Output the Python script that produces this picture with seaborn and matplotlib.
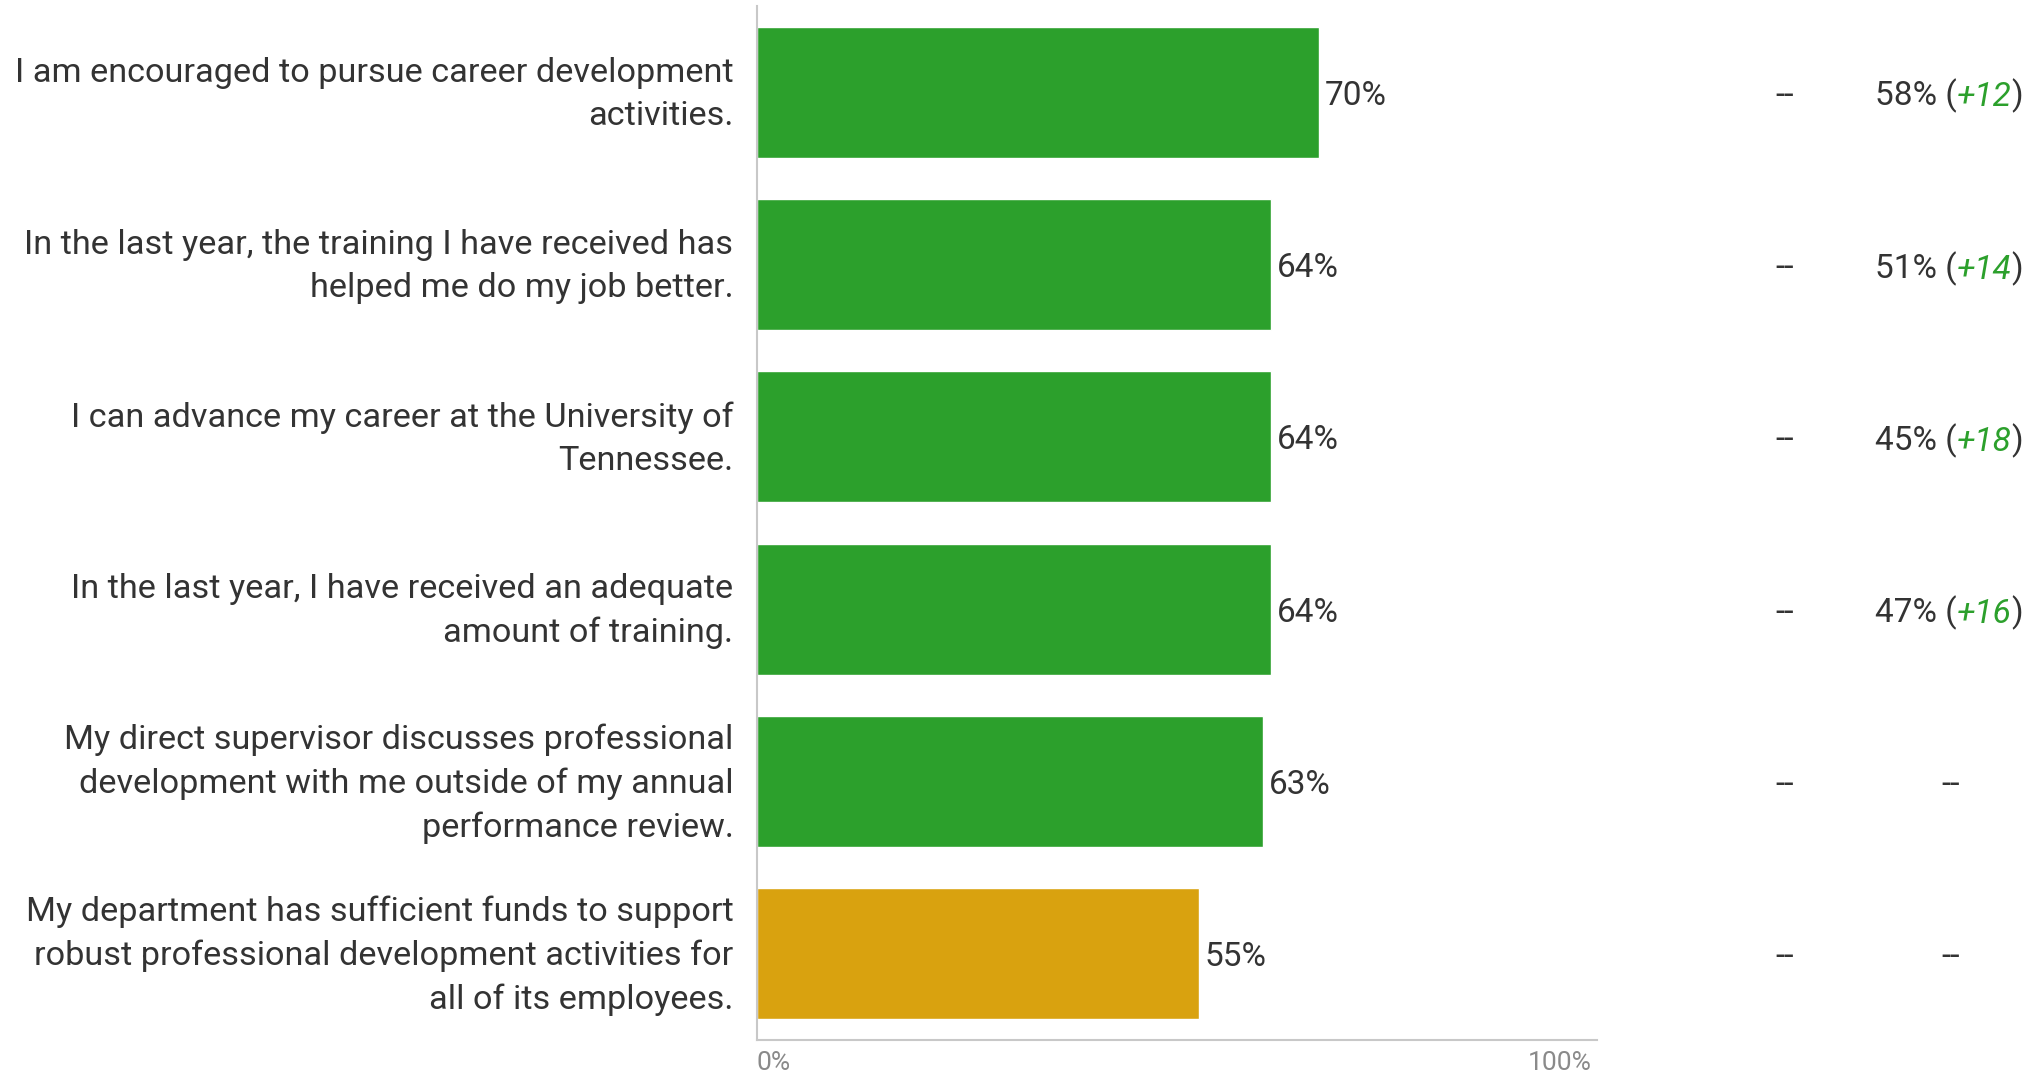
import matplotlib
matplotlib.use("Agg")
import matplotlib.pyplot as plt
import matplotlib.transforms as mtransforms
import seaborn as sns
import pandas as pd

# Survey statements (one row per bar, top to bottom)
questions = [
    "I am encouraged to pursue career development\nactivities.",
    "In the last year, the training I have received has\nhelped me do my job better.",
    "I can advance my career at the University of\nTennessee.",
    "In the last year, I have received an adequate\namount of training.",
    "My direct supervisor discusses professional\ndevelopment with me outside of my annual\nperformance review.",
    "My department has sufficient funds to support\nrobust professional development activities for\nall of its employees.",
]
# Percent favorable
favorable = [70, 64, 64, 64, 63, 55]
# Comparison columns
comparison_a = ["--", "--", "--", "--", "--", "--"]
comparison_b = [58, 51, 45, 47, None, None]
change_b = ["+12", "+14", "+18", "+16", None, None]
bar_colors = ["#2ca02c", "#2ca02c", "#2ca02c", "#2ca02c", "#2ca02c", "#d9a20f"]

TEXT = "#333333"
GREEN = "#2ca02c"
NUM_FONT = ["Roboto", "DejaVu Sans"]
NUM_SIZE = 24

sns.set_theme(style="white")
plt.rcParams["font.family"] = ["Roboto", "DejaVu Sans"]

df = pd.DataFrame({"question": questions, "favorable": favorable})

W, H = 2037, 1074
fig = plt.figure(figsize=(W / 100, H / 100), dpi=100)
ax = fig.add_axes([757 / W, 1 - 1040 / H, (1597 - 757) / W, (1040 - 6) / H])

sns.barplot(data=df, x="favorable", y="question", hue="question",
            palette=bar_colors, orient="h", width=0.76, legend=False,
            saturation=1, ax=ax)

ax.set_xlim(0, 104.6)
ax.set_ylim(5.5, -0.5)
ax.set_xlabel("")
ax.set_ylabel("")

# Axis styling: only left and bottom light gray lines
for side in ["top", "right"]:
    ax.spines[side].set_visible(False)
for side in ["left", "bottom"]:
    ax.spines[side].set_color("#c8c8c8")
    ax.spines[side].set_linewidth(1.5)

ax.tick_params(axis="y", length=0, pad=17, labelsize=24.7, labelcolor=TEXT)
lift = mtransforms.ScaledTranslation(0, 5 / 72, fig.dpi_scale_trans)
for lbl in ax.get_yticklabels():
    lbl.set_linespacing(1.45)
    lbl.set_transform(lbl.get_transform() + lift)
ax.tick_params(axis="x", length=0, pad=8, labelsize=19, labelcolor="#8a8a8a")
ax.set_xticks([0, 100])
ax.set_xticklabels(["0%", "100%"])
xl = ax.get_xticklabels()
xl[0].set_horizontalalignment("left")
xl[1].set_horizontalalignment("center")

# Value labels at the bar ends
for cont in ax.containers:
    texts = ax.bar_label(cont, labels=[f"{v:.0f}%" for v in cont.datavalues],
                         padding=4, fontsize=NUM_SIZE, color=TEXT,
                         family=NUM_FONT)
    for t in texts:
        t.set_verticalalignment("center_baseline")

blend = mtransforms.blended_transform_factory(fig.transFigure, ax.transData)

# Comparison columns on the right
col_a_x = 1784.5 / W
col_b_right = 2023 / W
col_b_center = 1951 / W
for i in range(len(questions)):
    ax.text(col_a_x, i, comparison_a[i], transform=blend, ha="center",
            va="center_baseline", fontsize=NUM_SIZE, color=TEXT,
            family=NUM_FONT)
    if comparison_b[i] is None:
        ax.text(col_b_center, i, "--", transform=blend, ha="center",
                va="center_baseline", fontsize=NUM_SIZE, color=TEXT,
                family=NUM_FONT)
    else:
        t3 = ax.annotate(")", xy=(col_b_right, i), xycoords=blend,
                         ha="right", va="center_baseline", fontsize=NUM_SIZE,
                         color=TEXT, family=NUM_FONT)
        t2 = ax.annotate(change_b[i], xy=(0, 0), xycoords=t3, ha="right",
                         va="bottom", fontsize=NUM_SIZE, color=GREEN,
                         family=NUM_FONT, style="italic")
        ax.annotate(f"{comparison_b[i]}% (", xy=(0, 0), xycoords=t2,
                    ha="right", va="bottom", fontsize=NUM_SIZE, color=TEXT,
                    family=NUM_FONT)

fig.savefig("out.png", dpi=100, facecolor="white")
